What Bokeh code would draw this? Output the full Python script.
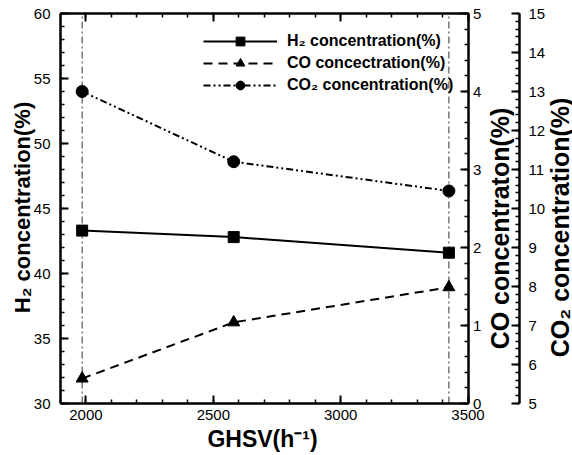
import math
from bokeh.plotting import figure
from bokeh.models import LinearAxis, Range1d, SingleIntervalTicker, Legend, LegendItem, Label
from bokeh.embed import file_html
from bokeh.resources import INLINE

# ---- data ----
ghsv = [1985, 2580, 3425]
h2 = [43.3, 42.8, 41.6]
co = [0.32, 1.04, 1.49]
co2 = [13.0, 11.2, 10.45]

x_limits = (1900, 3500)
h2_limits = (30, 60)
co_limits = (0, 5)
co2_limits = (5, 15)

legend_labels = ["H\u2082 concentration(%)", "CO concectration(%)", "CO\u2082 concentration(%)"]
x_title = "GHSV(h\u207b\u00b9)"
h2_title = "H\u2082 concentration(%)"
co_title = "CO concentraton(%)"
co2_title = "CO\u2082 concentration(%)"

FONT = "Liberation Sans"
W, H = 572, 455

# ---- layout: the frame covers the whole canvas; the data box sits at these pixels ----
BOX_L, BOX_R, BOX_T, BOX_B = 60, 467.5, 13, 403
CO2_AXIS_PX = 519


def view_range(lo, hi, a_px, b_px, full, invert=False):
    """range limits that place lo..hi at pixels a_px..b_px of a 0..full canvas"""
    per = (hi - lo) / (b_px - a_px)
    if invert:  # vertical: a_px is the bottom pixel measured from the top
        return Range1d(lo - (full - a_px) * per, hi + b_px * per)
    return Range1d(lo - a_px * per, hi + (full - b_px) * per)


xr = view_range(*x_limits, BOX_L, BOX_R, W)
x_per_px = (x_limits[1] - x_limits[0]) / (BOX_R - BOX_L)
co2_axis_x = x_limits[0] + (CO2_AXIS_PX - BOX_L) * x_per_px


def vr(lims):
    lo, hi = lims
    per = (hi - lo) / (BOX_B - BOX_T)
    return Range1d(lo - (H - BOX_B) * per, hi + BOX_T * per)


p = figure(width=W, height=H, output_backend="svg", toolbar_location=None,
           x_range=xr, y_range=vr(h2_limits),
           x_axis_location=None, y_axis_location=None,
           min_border=0, min_border_left=0, min_border_right=0, min_border_top=0, min_border_bottom=0,
           background_fill_color="white", border_fill_color="white")
p.extra_y_ranges = {"co": vr(co_limits), "co2": vr(co2_limits)}
p.grid.visible = False
p.outline_line_color = None


def style(ax, lab_standoff):
    ax.axis_line_color = "black"
    ax.axis_line_width = 2.5
    ax.major_tick_in = 8
    ax.major_tick_out = 0
    ax.minor_tick_in = 4
    ax.minor_tick_out = 0
    ax.major_tick_line_width = 2
    ax.minor_tick_line_width = 1.5
    ax.major_tick_line_color = "black"
    ax.minor_tick_line_color = "black"
    ax.major_label_text_font = FONT
    ax.major_label_text_font_size = "15px"
    ax.major_label_text_color = "black"
    ax.major_label_standoff = lab_standoff


bottom = LinearAxis(ticker=SingleIntervalTicker(interval=500, num_minor_ticks=5),
                    bounds=x_limits, fixed_location=h2_limits[0])
style(bottom, 6)
p.add_layout(bottom, "below")

top = LinearAxis(ticker=SingleIntervalTicker(interval=500, num_minor_ticks=5),
                 bounds=x_limits, fixed_location=h2_limits[1])
style(top, 0)
top.major_label_text_font_size = "0px"
top.major_label_text_alpha = 0
p.add_layout(top, "above")

left = LinearAxis(ticker=SingleIntervalTicker(interval=5, num_minor_ticks=5),
                  bounds=h2_limits, fixed_location=x_limits[0])
style(left, 10)
p.add_layout(left, "left")

co_ax = LinearAxis(y_range_name="co", ticker=SingleIntervalTicker(interval=1, num_minor_ticks=5),
                   bounds=co_limits, fixed_location=x_limits[1])
style(co_ax, 5)
p.add_layout(co_ax, "right")

co2_ax = LinearAxis(y_range_name="co2", ticker=SingleIntervalTicker(interval=1, num_minor_ticks=5),
                    bounds=co2_limits, fixed_location=co2_axis_x)
style(co2_ax, 9)
p.add_layout(co2_ax, "right")

# axis titles (screen units measured from the canvas bottom-left)
titles = [
    (h2_title, 22, H - 207, math.pi / 2, "22px"),
    (x_title, 262, H - 438, 0, "23px"),
    (co_title, 499, H - 228, math.pi / 2, "25px"),
    (co2_title, 559, H - 227, math.pi / 2, "25px"),
]
for txt, xs, ys, ang, fs in titles:
    p.add_layout(Label(x=xs, y=ys, x_units="screen", y_units="screen", text=txt,
                       angle=ang, text_align="center", text_baseline="middle",
                       text_font=FONT, text_font_style="bold", text_font_size=fs,
                       text_color="black"))

# vertical dash-dot reference lines at first and last GHSV
edge_x = [ghsv[0], ghsv[-1]]
p.segment(x0=edge_x, x1=edge_x, y0=[h2_limits[0]] * 2, y1=[h2_limits[1]] * 2,
          line_color="#333333", line_width=1, line_dash="7 3 2 3")

l1 = p.line(ghsv, h2, line_color="black", line_width=2)
s1 = p.scatter(ghsv, h2, marker="square", size=11, color="black")
l2 = p.line(ghsv, co, y_range_name="co", line_color="black", line_width=2, line_dash="9 6")
s2 = p.scatter(ghsv, co, y_range_name="co", marker="triangle", size=12, color="black")
l3 = p.line(ghsv, co2, y_range_name="co2", line_color="black", line_width=2, line_dash="7 3 2 3 2 3")
s3 = p.scatter(ghsv, co2, y_range_name="co2", marker="circle", size=12, color="black")

legend = Legend(items=[LegendItem(label=legend_labels[0], renderers=[l1, s1]),
                       LegendItem(label=legend_labels[1], renderers=[l2, s2]),
                       LegendItem(label=legend_labels[2], renderers=[l3, s3])],
                location=(203, 359), glyph_width=74, glyph_height=22, spacing=-3,
                padding=0, margin=0, label_standoff=10,
                label_text_font=FONT, label_text_font_size="16px", label_text_font_style="bold",
                label_text_color="black", border_line_color=None, background_fill_alpha=0)
p.add_layout(legend)

open("out.html", "w").write(file_html(p, INLINE))
